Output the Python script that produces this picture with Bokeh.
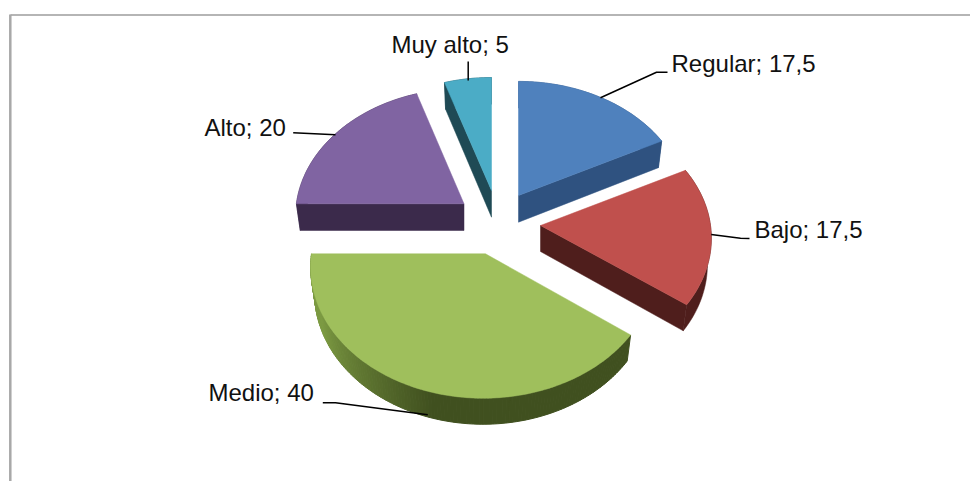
from math import sin, cos, radians
from bokeh.plotting import figure
from bokeh.models import Range1d
from bokeh.core.properties import value
from bokeh.embed import file_html
from bokeh.resources import INLINE

# ---- data ----
categories = ["Regular", "Bajo", "Medio", "Alto", "Muy alto"]
values = [17.5, 17.5, 40, 20, 5]
value_labels = ["17,5", "17,5", "40", "20", "5"]

# ---- styling / layout (page pixels) ----
top_colors = ["#4F81BD", "#C0504D", "#9FBF5C", "#8064A2", "#4BACC6"]
side_colors = ["#2F5280", "#4F1E1C", "#40501F", "#3B2A4B", "#1F4A55"]
centers_x = [518, 540, 482.6, 463.5, 491]
apex_x = [518, 540, 485, 463.5, 491]
centers_y = [195, 225, 253.3, 203.3, 190]
radii_x = [168, 170, 171.6, 167.6, 166.6]
radii_y = [125.5, 127, 130, 126.7, 124.3]
depths = [26.7, 26, 26, 26.7, 26.7]
PERSP = 0.1
BOTTOM_SCALE = 0.977

label_x = [671, 754, 208, 204, 391]
label_y = [63, 229, 392, 127, 44]
leaders = [
    ([600, 656, 667], [97.3, 71.7, 71.7]),
    ([710.7, 740, 749], [234, 237.7, 238]),
    ([322.3, 335, 427.3], [402.3, 402.3, 414.3]),
    ([292.7, 335], [132.3, 134.3]),
    ([467.7, 467.7], [61, 80]),
]

p = figure(width=970, height=481, output_backend="svg", toolbar_location=None,
           x_range=Range1d(0, 970), y_range=Range1d(481, 0),
           x_axis_location=None, y_axis_location=None, min_border=0,
           outline_line_color=None, background_fill_color="white")
p.grid.visible = False

# chart frame
p.line([10, 970], [14.5, 14.5], line_color="#9C9C9C", line_width=1.5)
p.line([9.8, 9.8], [14, 481], line_color="#A8A8A8", line_width=2.5)


def pt(i, deg, scale=1.0, dy=0.0):
    a = radians(deg)
    s = 1 / (1 + PERSP * cos(a))
    x = centers_x[i] + scale * radii_x[i] * sin(a) * s
    y = centers_y[i] - radii_y[i] * cos(a) * s + dy
    return x, y


def lerp_color(c1, c2, t):
    a = [int(c1[k:k + 2], 16) for k in (1, 3, 5)]
    b = [int(c2[k:k + 2], 16) for k in (1, 3, 5)]
    return "#%02x%02x%02x" % tuple(round(u + (v - u) * t) for u, v in zip(a, b))


total = sum(values)
start = 0.0
for i, val in enumerate(values):
    end = start + val / total * 360
    n = max(2, int(end - start))
    angles = [start + (end - start) * k / n for k in range(n + 1)]
    top_arc = [pt(i, d) for d in angles]
    bot_arc = [pt(i, d, BOTTOM_SCALE, depths[i]) for d in angles]
    ax, ay = apex_x[i], centers_y[i]
    d = depths[i]

    # outer rim
    if categories[i] == "Medio":
        for k in range(n):
            d0 = angles[k]
            # light to the left, dark from the front onwards
            t = min(1.0, max(0.0, (d0 - 195) / (245 - 195)))
            col = lerp_color(side_colors[i], "#7C9A42", t)
            xs = [top_arc[k][0], top_arc[k + 1][0], bot_arc[k + 1][0], bot_arc[k][0]]
            ys = [top_arc[k][1], top_arc[k + 1][1], bot_arc[k + 1][1], bot_arc[k][1]]
            p.patch(xs, ys, fill_color=col, line_color=col, line_width=1)
    else:
        xs = [q[0] for q in top_arc] + [q[0] for q in reversed(bot_arc)]
        ys = [q[1] for q in top_arc] + [q[1] for q in reversed(bot_arc)]
        p.patch(xs, ys, fill_color=side_colors[i], line_color=side_colors[i], line_width=0.5)

    # cut faces that turn towards the viewer
    if sin(radians(start)) < -1e-6:
        xs = [ax, top_arc[0][0], bot_arc[0][0], ax]
        ys = [ay, top_arc[0][1], bot_arc[0][1], ay + d]
        p.patch(xs, ys, fill_color=side_colors[i], line_color=side_colors[i], line_width=0.5)
    if sin(radians(end)) > 1e-6:
        xs = [ax, top_arc[-1][0], bot_arc[-1][0], ax]
        ys = [ay, top_arc[-1][1], bot_arc[-1][1], ay + d]
        p.patch(xs, ys, fill_color=side_colors[i], line_color=side_colors[i], line_width=0.5)

    # top face
    xs = [ax] + [q[0] for q in top_arc]
    ys = [ay] + [q[1] for q in top_arc]
    p.patch(xs, ys, fill_color=top_colors[i], line_color=top_colors[i], line_width=0.5)
    start = end

# leaders and labels
for lx, ly in leaders:
    p.line(lx, ly, line_color="#000000", line_width=1.5)

p.text(label_x, label_y,
       text=[f"{c}; {v}" for c, v in zip(categories, value_labels)],
       text_font=value("Liberation Sans"), text_font_size="24px",
       text_color="#111111", text_baseline="middle", text_align="left")

open("out.html", "w").write(file_html(p, INLINE))
